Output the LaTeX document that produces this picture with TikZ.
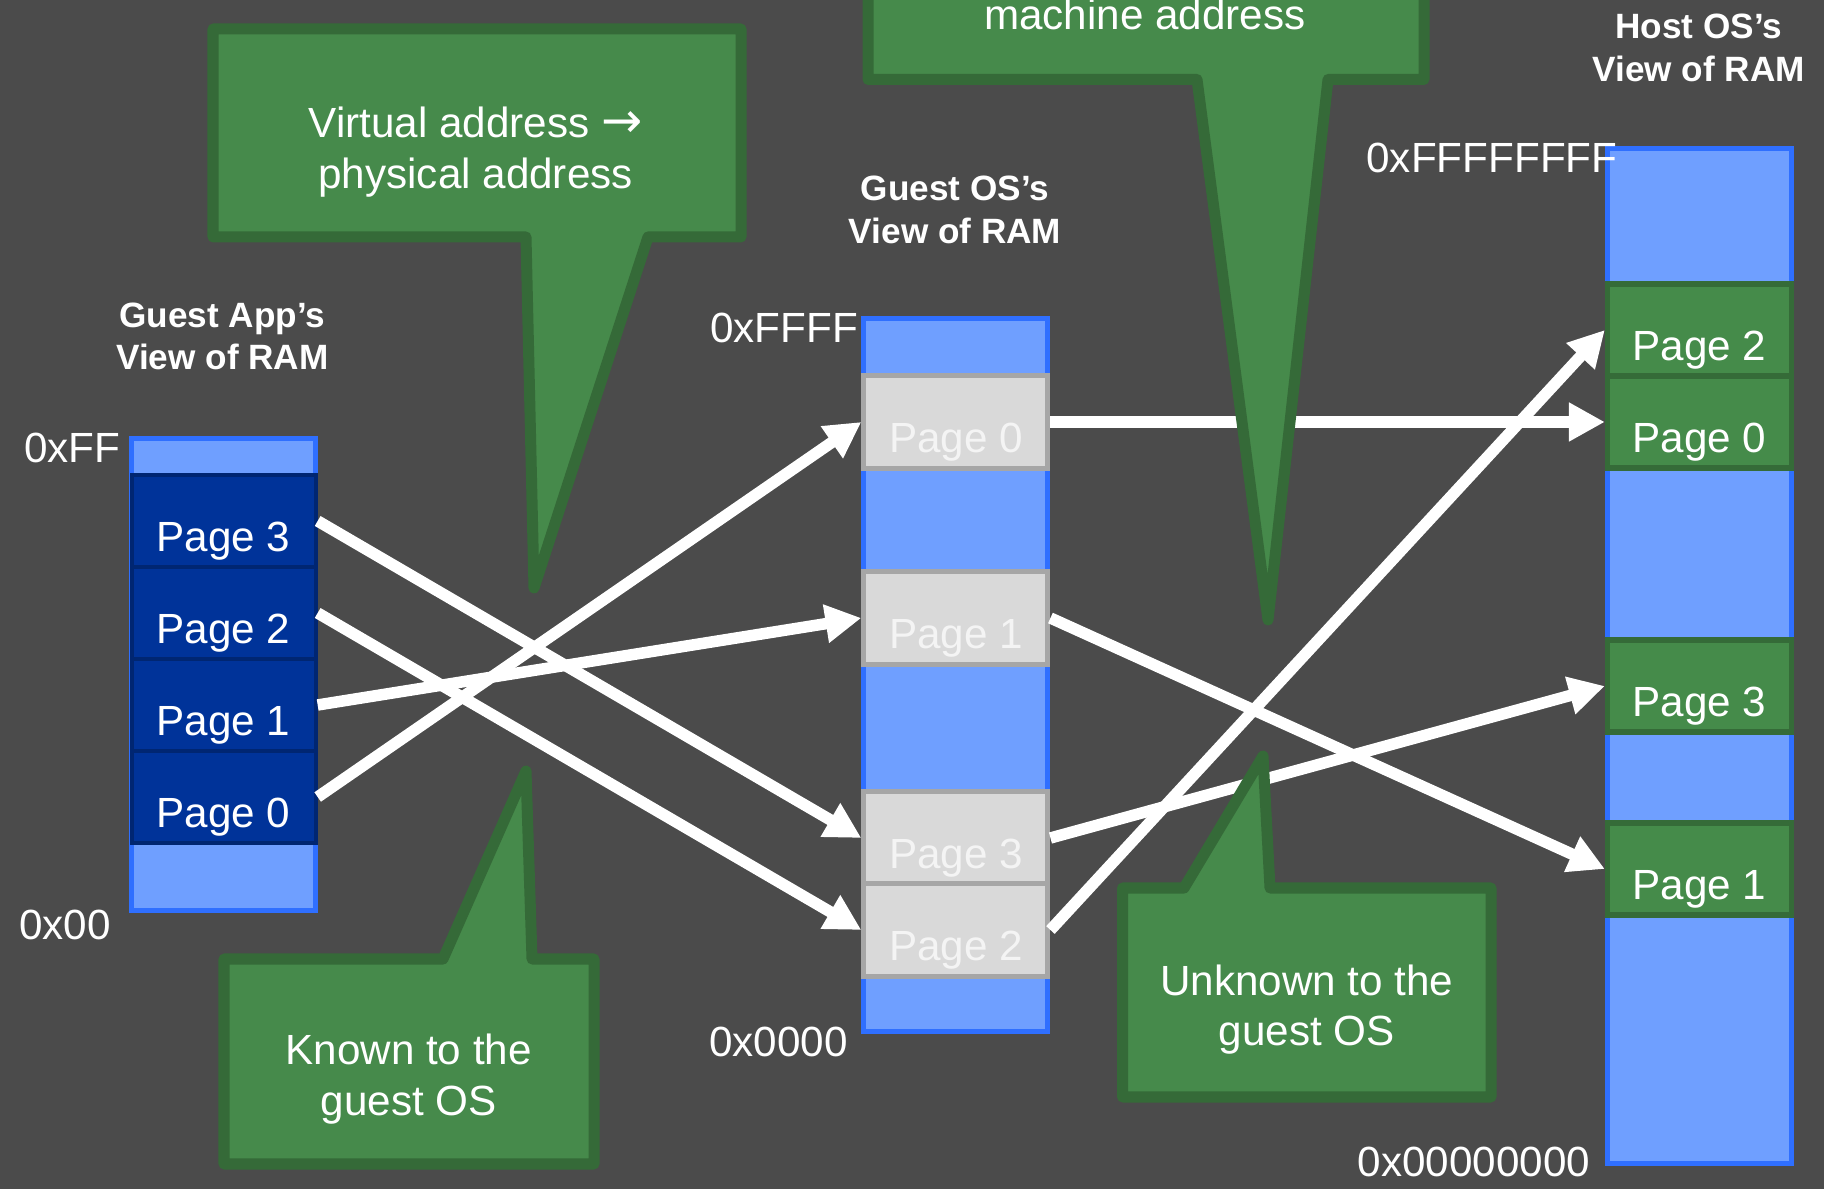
\documentclass[tikz,border=0pt]{standalone}
\usepackage{fontspec}
\setmainfont{Liberation Sans}
\newfontfamily\arrowfont{DejaVu Sans}
\usetikzlibrary{arrows.meta}

\definecolor{bgcol}{HTML}{4B4B4B}
\definecolor{ramfill}{HTML}{6F9FFF}
\definecolor{ramedge}{HTML}{2F6FFF}
\definecolor{appfill}{HTML}{003399}
\definecolor{appedge}{HTML}{002672}
\definecolor{osfill}{HTML}{D9D9D9}
\definecolor{osedge}{HTML}{A6A6A6}
\definecolor{ostext}{HTML}{F4F4F4}
\definecolor{hostfill}{HTML}{458B4A}
\definecolor{hostedge}{HTML}{356B38}
\definecolor{callfill}{HTML}{468A4B}
\definecolor{calledge}{HTML}{356A38}

\newcommand{\pagefont}{\fontsize{12}{14.5}\selectfont}
\newcommand{\titlefont}{\fontsize{10}{12.2}\selectfont\bfseries}

\tikzset{
  ramcol/.style={draw=ramedge, fill=ramfill, line width=1.42pt,
    minimum width=1.84cm, inner sep=0pt},
  pg/.style={minimum width=1.84cm, minimum height=0.92cm, inner sep=0pt,
    text height=0.6cm, text depth=0pt, font=\pagefont, text=white},
  apppage/.style={pg, draw=appedge, fill=appfill, line width=1.14pt},
  ospage/.style={pg, draw=osedge, fill=osfill, line width=1.42pt, text=ostext},
  hostpage/.style={pg, draw=hostedge, fill=hostfill, line width=1.5pt},
  addr/.style={anchor=base west, inner sep=0pt, font=\pagefont, text=white},
  % multi-line texts: the base anchor sits on the last line
  title/.style={anchor=base, inner sep=0pt, align=center, font=\titlefont, text=white},
  calltext/.style={anchor=base, inner sep=0pt, align=center, font=\pagefont, text=white},
  callout/.style={draw=calledge, fill=callfill, line width=3.13pt, line join=round},
  conn/.style={draw=white, line width=3.27pt,
    -{Triangle[length=10.2pt, width=10.4pt]}},
}

\begin{document}
\begin{tikzpicture}[x=0.01cm, y=-0.01cm]
  % canvas
  \fill[bgcol] (0,0) rectangle (1824,1189);
  \useasboundingbox (0,0) rectangle (1824,1189);

  % memory columns
  \node[ramcol, minimum height=4.723cm] (appcol)  at (223.6,674.4) {};
  \node[ramcol, minimum height=7.125cm] (oscol)   at (955.9,675.2) {};
  \node[ramcol, minimum height=10.14cm] (hostcol) at (1699.5,656) {};

  % guest application pages
  \node[apppage] (a3) at (223.6,521) {Page 3};
  \node[apppage] (a2) at (223.6,613) {Page 2};
  \node[apppage] (a1) at (223.6,705) {Page 1};
  \node[apppage] (a0) at (223.6,797) {Page 0};

  % guest OS pages
  \node[ospage] (o0) at (955.9,422) {Page 0};
  \node[ospage] (o1) at (955.9,618) {Page 1};
  \node[ospage] (o3) at (955.9,838) {Page 3};
  \node[ospage] (o2) at (955.9,930) {Page 2};

  % host pages
  \node[hostpage] (h2) at (1699.5,330) {Page 2};
  \node[hostpage] (h0) at (1699.5,422) {Page 0};
  \node[hostpage] (h3) at (1699.5,686) {Page 3};
  \node[hostpage] (h1) at (1699.5,869) {Page 1};

  % column titles
  \node[title] (apptitle)  at (222.5,370)  {Guest App’s\\View of RAM};
  \node[title] (ostitle)   at (955,243.8)  {Guest OS’s\\View of RAM};
  \node[title] (hosttitle) at (1698.8,81.1) {Host OS’s\\View of RAM};

  % address bounds
  \node[addr] (apphi)  at (23.3,463)    {0xFF};
  \node[addr] (applo)  at (18.6,940)    {0x00};
  \node[addr] (oshi)   at (709.7,342.5) {0xFFFF};
  \node[addr] (oslo)   at (708.5,1056.4) {0x0000};
  \node[addr] (hosthi) at (1365.8,173)  {0xFFFFFFFF};
  \node[addr] (hostlo) at (1357,1176.6) {0x00000000};

  % page mappings
  \draw[conn] (a3.east) -- (o3.west);
  \draw[conn] (a2.east) -- (o2.west);
  \draw[conn] (a1.east) -- (o1.west);
  \draw[conn] (a0.east) -- (o0.west);
  \draw[conn] (o0.east) -- (h0.west);
  \draw[conn] (o1.east) -- (h1.west);
  \draw[conn] (o3.east) -- (h3.west);
  \draw[conn] (o2.east) -- (h2.west);

  % speech bubbles
  \draw[callout] (213,29) -- (741,29) -- (741,237) -- (648,237) -- (534,588)
    -- (526,237) -- (213,237) -- cycle;
  \node[calltext] (virt) at (475.6,188.3)
    {Virtual address {\arrowfont\fontsize{14}{14.5}\selectfont →}\\physical address};

  \draw[callout] (868,-60) -- (1424,-60) -- (1424,79.5) -- (1328,79.5) -- (1268,620)
    -- (1197,79.5) -- (868,79.5) -- cycle;
  \node[calltext] (mach) at (1144.7,29.9) {machine address};

  \draw[callout] (224,959) -- (443,959) -- (526,771) -- (532,959) -- (594,959)
    -- (594,1164) -- (224,1164) -- cycle;
  \node[calltext] (known) at (408.7,1115.4) {Known to the\\guest OS};

  \draw[callout] (1122.5,888) -- (1184,888) -- (1263,756) -- (1270,888) -- (1491,888)
    -- (1491,1097) -- (1122.5,1097) -- cycle;
  \node[calltext] (unknown) at (1306.7,1046) {Unknown to the\\guest OS};
\end{tikzpicture}
\end{document}
